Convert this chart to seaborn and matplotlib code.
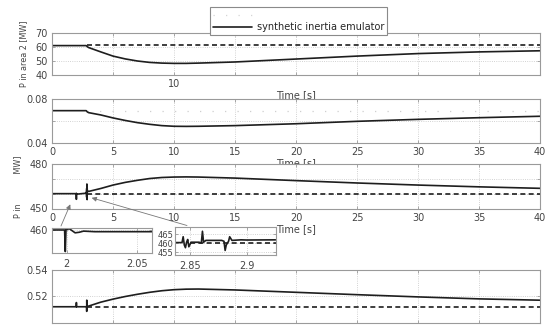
import numpy as np
import pandas as pd
import matplotlib
matplotlib.use("Agg")
import matplotlib.pyplot as plt
from matplotlib.lines import Line2D
import seaborn as sns

# ---------------- data ----------------
time = [0, 2.8, 2.9, 3, 4, 5, 6, 7, 8, 9, 10, 11, 12, 15, 20, 25, 30, 35, 40]
p_area2 = [61.0, 61.0, 60.2, 59.6, 56.5, 53.5, 51.5, 50.0, 49.0, 48.5, 48.3, 48.3,
           48.5, 49.3, 51.4, 53.5, 55.3, 56.5, 57.3]
series_b = [0.0694, 0.0694, 0.0682, 0.0676, 0.0655, 0.0628, 0.0605, 0.0585, 0.0570,
            0.0558, 0.0552, 0.0551, 0.0552, 0.0558, 0.0575, 0.0597, 0.0615, 0.0630, 0.0643]
p_area1 = [460.0, 460.3, 461.7, 461.5, 463.5, 465.8, 467.6, 469.0, 470.2, 470.9, 471.2,
           471.3, 471.2, 470.5, 468.8, 467.2, 465.8, 464.6, 463.6]

time_d = [0, 1.99, 2.0, 2.01, 2.84, 2.845, 2.85, 2.86, 3, 4, 5, 6, 7, 8, 9, 10, 11, 12,
          15, 20, 25, 30, 35, 40]
series_d = [0.512, 0.512, 0.5152, 0.512, 0.512, 0.5085, 0.5170, 0.5122, 0.5125, 0.5155,
            0.5178, 0.5198, 0.5215, 0.5230, 0.5242, 0.5250, 0.5254, 0.5255, 0.5248,
            0.5230, 0.5212, 0.5195, 0.5180, 0.5170]

# detail of P in area 1 around t = 2 s
time_z1 = [1.9895, 1.9985, 1.9990, 1.9995, 2.002, 2.006, 2.009, 2.012, 2.02, 2.04, 2.0609]
p_area1_z1 = [460.0, 460.0, 456.2, 460.1, 460.2, 459.5, 459.6, 459.8, 459.7, 459.7, 459.7]

# detail of P in area 1 around t = 2.85 s
time_z2 = [2.8368, 2.843, 2.844, 2.845, 2.846, 2.847, 2.848, 2.849, 2.851, 2.858, 2.860,
           2.861, 2.862, 2.864, 2.878, 2.880, 2.881, 2.882, 2.884, 2.885, 2.887, 2.895,
           2.900, 2.9254]
p_area1_z2 = [460.3, 460.3, 463.5, 459.0, 457.5, 460.5, 462.0, 458.0, 460.5, 460.5, 460.0,
              466.5, 460.5, 461.5, 461.5, 461.0, 456.0, 459.0, 461.0, 463.5, 461.5, 461.8,
              461.7, 461.8]

# reference (without emulator) – dashed
time_ref = [2.85, 40]
ref_area2 = [61.3, 61.3]
ref_b = [0.0694, 0.0694]
ref_area1 = [460.0, 460.0]
ref_d = [0.5115, 0.5115]

legend_labels = ["", "synthetic inertia emulator"]
x_ticks = [0, 5, 10, 15, 20, 25, 30, 35, 40]
x_labels_top = ["", "", "10", "", "", "", "", "", ""]
x_labels = ["0", "5", "10", "15", "20", "25", "30", "35", "40"]

# ---------------- style ----------------
sns.set_theme(style="ticks")
plt.rcParams.update({
    "font.family": ["DejaVu Sans"],
    "font.size": 7,
    "axes.labelsize": 7,
    "axes.edgecolor": "#9a9a9a",
    "axes.linewidth": 0.8,
    "xtick.color": "#9a9a9a",
    "ytick.color": "#9a9a9a",
    "xtick.labelcolor": "#444444",
    "ytick.labelcolor": "#444444",
    "axes.labelcolor": "#444444",
    "xtick.labelsize": 7,
    "ytick.labelsize": 7,
    "legend.fontsize": 7,
})

W, H = 549, 325
fig = plt.figure(figsize=(W / 100, H / 100), dpi=100)


def box(l, t, r, b):
    return [l / W, 1 - b / H, (r - l) / W, (b - t) / H]


LINE = "#1e1e1e"


def solid(ax, t, y):
    sns.lineplot(x=t, y=y, ax=ax, estimator=None, sort=False, color=LINE, lw=1.2)


def dashed(ax, t, y, color=LINE, dash=(3, 2), lw=1.2):
    sns.lineplot(x=t, y=y, ax=ax, estimator=None, sort=False, color=color, lw=lw)
    ax.lines[-1].set_dashes(dash)


def style(ax):
    ax.grid(True, ls=":", color="#c4c4c4", lw=0.6)
    ax.tick_params(direction="in", length=2, width=0.6, top=True, right=True, pad=3)
    for s in ax.spines.values():
        s.set_visible(True)
    ax.set_ylabel("")
    ax.set_xlabel("")


ax1 = fig.add_axes(box(52, 33, 540, 75))
ax2 = fig.add_axes(box(52, 99, 540, 143))
ax3 = fig.add_axes(box(52, 164, 540, 208.5))
ax4 = fig.add_axes(box(52, 270, 540, 322.5))

# panel 1
dashed(ax1, time_ref, ref_area2)
solid(ax1, time, p_area2)
style(ax1)
ax1.set_xlim(0, 40)
ax1.set_ylim(40, 70)
ax1.set_yticks([40, 50, 60, 70])
ax1.set_xticks(x_ticks)
ax1.set_xticklabels(x_labels_top)
ax1.set_xlabel("Time [s]", labelpad=1)
ax1.set_ylabel("P in area 2 [MW]", labelpad=5, fontsize=5.8)

# panel 2
dashed(ax2, time_ref, ref_b, color="#cfcfcf", dash=(1, 9), lw=0.9)
solid(ax2, time, series_b)
style(ax2)
ax2.set_xlim(0, 40)
ax2.set_ylim(0.04, 0.08)
ax2.set_yticks([0.04, 0.06, 0.08])
ax2.set_yticklabels(["0.04", "", "0.08"])
ax2.set_xticks(x_ticks)
ax2.set_xticklabels(x_labels)
ax2.set_xlabel("Time [s]", labelpad=1)

# panel 3 (main + details merged)
df3 = pd.DataFrame({"t": time, "p": p_area1})
df3 = df3[~((df3.t > 1.98) & (df3.t < 2.07)) & ~((df3.t > 2.83) & (df3.t < 2.93))]
df3 = pd.concat([df3,
                 pd.DataFrame({"t": time_z1, "p": p_area1_z1}),
                 pd.DataFrame({"t": time_z2, "p": p_area1_z2})]).sort_values("t")
dashed(ax3, time_ref, ref_area1)
solid(ax3, df3.t.values, df3.p.values)
style(ax3)
ax3.set_xlim(0, 40)
ax3.set_ylim(450, 480)
ax3.set_yticks([450, 460, 470, 480])
ax3.set_yticklabels(["450", "", "", "480"])
ax3.set_xticks(x_ticks)
ax3.set_xticklabels(x_labels)
ax3.set_xlabel("Time [s]", labelpad=1)
ax3.set_ylabel("P in            MW]", labelpad=5, fontsize=5.8)

# panel 4
dashed(ax4, time_ref, ref_d)
solid(ax4, time_d, series_d)
style(ax4)
ax4.set_xlim(0, 40)
ax4.set_ylim(0.50, 0.54)
ax4.set_yticks([0.50, 0.52, 0.54])
ax4.set_yticklabels(["", "0.52", "0.54"])
ax4.set_xticks(x_ticks)
ax4.set_xticklabels([])

# inset 1
in1 = fig.add_axes(box(52, 227.7, 152, 253.3))
solid(in1, time_z1, p_area1_z1)
style(in1)
in1.set_xlim(1.9895, 2.0609)
in1.set_ylim(455.9, 460.4)
in1.set_xticks([2.0, 2.05])
in1.set_xticklabels(["2", "2.05"])
in1.set_yticks([460])
in1.set_yticklabels(["460"])
in1.tick_params(axis="x", pad=4)

# inset 2
in2 = fig.add_axes(box(175, 226.7, 275.5, 255))
dashed(in2, time_ref, ref_area1)
solid(in2, time_z2, p_area1_z2)
style(in2)
in2.set_xlim(2.8368, 2.9254)
in2.set_ylim(453.5, 469)
in2.set_xticks([2.85, 2.9])
in2.set_xticklabels(["2.85", "2.9"])
in2.set_yticks([455, 460, 465])
in2.tick_params(axis="y", labelsize=6, pad=1)
in2.tick_params(axis="x", pad=4)

# arrows from insets to the events
arrow = dict(arrowstyle="-|>", color="#777777", lw=0.6, mutation_scale=7,
             shrinkA=0, shrinkB=0)
ax3.annotate("", xy=(1.5, 452.8), xycoords="data",
             xytext=(61 / W, 1 - 226 / H), textcoords="figure fraction",
             arrowprops=arrow, annotation_clip=False)
ax3.annotate("", xy=(3.25, 457.2), xycoords="data",
             xytext=(187 / W, 1 - 225.5 / H), textcoords="figure fraction",
             arrowprops=arrow, annotation_clip=False)

# legend
handles = [Line2D([], [], color="#d5d5d5", lw=0.9, dashes=(1, 9)),
           Line2D([], [], color=LINE, lw=1.2)]
fig.legend(handles, legend_labels, loc="upper left",
           bbox_to_anchor=(210 / W, 1 - 7 / H), borderaxespad=0, fancybox=False,
           edgecolor="#8a8a8a", framealpha=1, fontsize=7, handlelength=4.0,
           labelspacing=0.25, borderpad=0.3, handletextpad=0.5)
fig.legends[0].get_frame().set_linewidth(0.8)

fig.savefig("out.png", dpi=100)
